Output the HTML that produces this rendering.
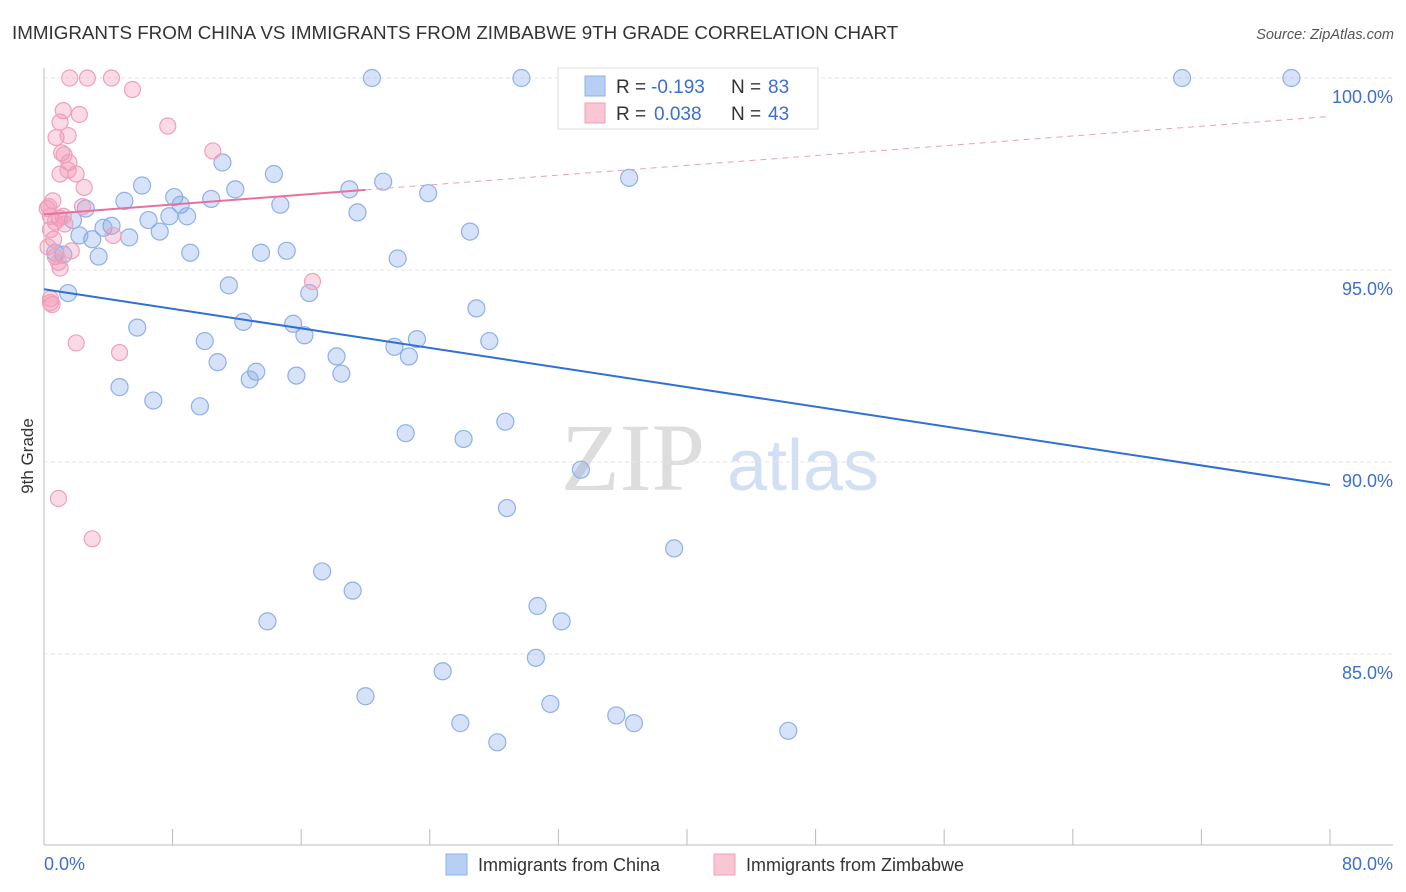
<!DOCTYPE html>
<html><head><meta charset="utf-8">
<style>
body{margin:0;background:#fff;font-family:"Liberation Sans",sans-serif;}
svg{display:block}
</style></head>
<body>
<svg id="chart" width="1406" height="892">
<text x="12" y="39" font-size="18.8" fill="#333">IMMIGRANTS FROM CHINA VS IMMIGRANTS FROM ZIMBABWE 9TH GRADE CORRELATION CHART</text>
<text x="1394" y="39" font-size="14.5" fill="#555" font-style="italic" text-anchor="end">Source: ZipAtlas.com</text>
<g>
<text x="633" y="490" font-size="96" fill="#ddd" font-family="Liberation Serif,serif" text-anchor="middle">ZIP</text>
<text x="803" y="490" font-size="72" fill="#d3e0f3" text-anchor="middle">atlas</text>
</g>
<g id="grid"></g>
<g id="axes"></g>
<g id="marks"></g>
<text transform="translate(33,456) rotate(-90)" font-size="17" fill="#333" text-anchor="middle">9th Grade</text>
<text x="44" y="870" font-size="18" fill="#3d6fcc">0.0%</text>
<text x="1393" y="870" font-size="18" fill="#3d6fcc" text-anchor="end">80.0%</text>
<g>
<rect x="558" y="68" width="260" height="61" fill="#fff" stroke="#ddd"/>
<rect x="585" y="76" width="20" height="20" fill="#b7cff3" stroke="#8fb0e8"/>
<rect x="585" y="103" width="20" height="20" fill="#f9c6d4" stroke="#f0a0b8"/>
<text x="616" y="93" font-size="19" fill="#333">R =</text><text x="651" y="93" font-size="19" fill="#3d6fcc">-0.193</text>
<text x="731" y="93" font-size="19" fill="#333">N =</text><text x="768" y="93" font-size="19" fill="#3d6fcc">83</text>
<text x="616" y="120" font-size="19" fill="#333">R =</text><text x="654" y="120" font-size="19" fill="#3d6fcc">0.038</text>
<text x="731" y="120" font-size="19" fill="#333">N =</text><text x="768" y="120" font-size="19" fill="#3d6fcc">43</text>
</g>
<g>
<rect x="446" y="854" width="21" height="21" fill="#b7cff3" stroke="#8fb0e8"/>
<text x="478" y="871" font-size="18" fill="#333">Immigrants from China</text>
<rect x="714" y="854" width="21" height="21" fill="#f9c6d4" stroke="#f0a0b8"/>
<text x="746" y="871" font-size="18" fill="#333">Immigrants from Zimbabwe</text>
</g>
</svg>
<script>
const yTicks=[85,90,95,100];
const yTickLabels=["85.0%","90.0%","95.0%","100.0%"];
const xTicks=[0,8,16,24,32,40,48,56,64,72,80];
const chinaX=[20.4,29.7,33.0,40.8,70.8,77.6,34.6,11.1,14.3,36.4,6.1,11.9,19.0,21.1,8.1,23.9,5.0,10.4,8.5,14.7,2.6,19.5,7.8,8.9,6.5,1.8,4.2,3.7,7.2,26.5,3.0,5.3,2.2,0.7,1.2,3.4,9.1,13.5,15.1,22.0,11.5,1.5,16.5,26.9,5.8,12.4,15.5,16.2,10.0,23.2,27.7,21.8,18.2,22.7,10.8,13.2,12.8,15.7,18.5,4.7,6.8,9.7,22.5,26.1,28.7,33.4,28.8,39.2,17.3,19.2,13.9,30.7,32.2,30.6,24.8,20.0,31.5,35.6,36.7,25.9,28.2,46.3];
const chinaY=[100,100,100,100,100,100,99.74,97.8,97.5,97.4,97.2,97.1,97.1,97.3,96.9,97.0,96.8,96.85,96.7,96.7,96.6,96.5,96.4,96.4,96.3,96.3,96.15,96.1,96.0,96.0,95.8,95.85,95.9,95.45,95.4,95.35,95.45,95.45,95.5,95.3,94.6,94.4,94.4,94.0,93.5,93.65,93.6,93.3,93.15,93.2,93.15,93.0,92.75,92.75,92.6,92.35,92.15,92.25,92.3,91.95,91.6,91.45,90.75,90.6,91.05,89.8,88.8,87.75,87.15,86.65,85.85,86.25,85.85,84.9,84.55,83.9,83.7,83.4,83.2,83.2,82.7,83.0];
const zimX=[1.6,2.7,4.2,5.5,1.2,2.2,1.0,0.75,1.5,7.7,10.5,1.1,1.25,1.55,1.5,1.0,2.0,2.5,0.55,0.3,2.4,4.3,0.4,0.95,1.3,1.2,0.6,1.7,0.7,0.9,16.7,0.4,0.5,2.0,4.7,0.9,3.0,0.4,0.2,0.7,0.25,1.0,0.4];
const zimY=[100,100,100,99.7,99.15,99.05,98.85,98.45,98.5,98.75,98.1,98.05,98.0,97.8,97.6,97.5,97.5,97.15,96.8,96.65,96.65,95.9,96.4,96.35,96.2,96.4,95.8,95.5,95.35,95.2,94.7,94.15,94.1,93.1,92.85,89.05,88.0,96.05,96.6,96.25,95.6,95.05,94.25];
const chinaTrend=[94.5,89.4];
const zimTrend=[96.45,99.0];
const zimSolidEnd=20;
const NS="http://www.w3.org/2000/svg";
const L=44,R=1330;
function sx(v){return L+(v/80)*(R-L);}
function sy(v){return 78+(100-v)*38.4;}
function mk(t,a,p){const e=document.createElementNS(NS,t);for(const k in a)e.setAttribute(k,a[k]);p.appendChild(e);return e;}
const grid=document.getElementById('grid'),axes=document.getElementById('axes'),marks=document.getElementById('marks');
yTicks.forEach((v,i)=>{
 const g=mk('line',{x1:L,x2:1393,y1:sy(v),y2:sy(v),stroke:'#e6e6e6','stroke-dasharray':'4,3'},grid);
 
 
 const t=mk('text',{x:1393,y:sy(v)+25,'font-size':18,fill:'#3d6fcc','text-anchor':'end'},grid);
 t.textContent=yTickLabels[i];
 
 
});
const ya=mk('line',{x1:L,x2:L,y1:68,y2:845,stroke:'#bbb'},axes);


const xa=mk('line',{x1:L,x2:1393,y1:845,y2:845,stroke:'#bbb'},axes);


xTicks.forEach(v=>{
 const t=mk('line',{x1:sx(v),x2:sx(v),y1:829,y2:845,stroke:'#bbb'},axes);
 
 
});
chinaX.forEach((x,i)=>{
 const c=mk('circle',{cx:sx(x),cy:sy(chinaY[i]),r:8.5,fill:'rgba(120,160,230,0.3)',stroke:'#8fb0e8','stroke-width':1.2},marks);
 
 
});
zimX.forEach((x,i)=>{
 const c=mk('circle',{cx:sx(x),cy:sy(zimY[i]),r:8,fill:'rgba(240,150,180,0.35)',stroke:'#f0a0b8','stroke-width':1.2},marks);
 
 
});
const bl=mk('line',{x1:sx(0),y1:sy(chinaTrend[0]),x2:sx(80),y2:sy(chinaTrend[1]),stroke:'#2f6fd6','stroke-width':2},marks);


const zAt=v=>zimTrend[0]+(zimTrend[1]-zimTrend[0])*v/80;
const pl=mk('line',{x1:sx(0),y1:sy(zAt(0)),x2:sx(zimSolidEnd),y2:sy(zAt(zimSolidEnd)),stroke:'#e8709a','stroke-width':2},marks);


const pd=mk('line',{x1:sx(zimSolidEnd),y1:sy(zAt(zimSolidEnd)),x2:sx(80),y2:sy(zAt(80)),stroke:'#e8a0b8','stroke-width':1,'stroke-dasharray':'6,5'},marks);


</script>
</body></html>
